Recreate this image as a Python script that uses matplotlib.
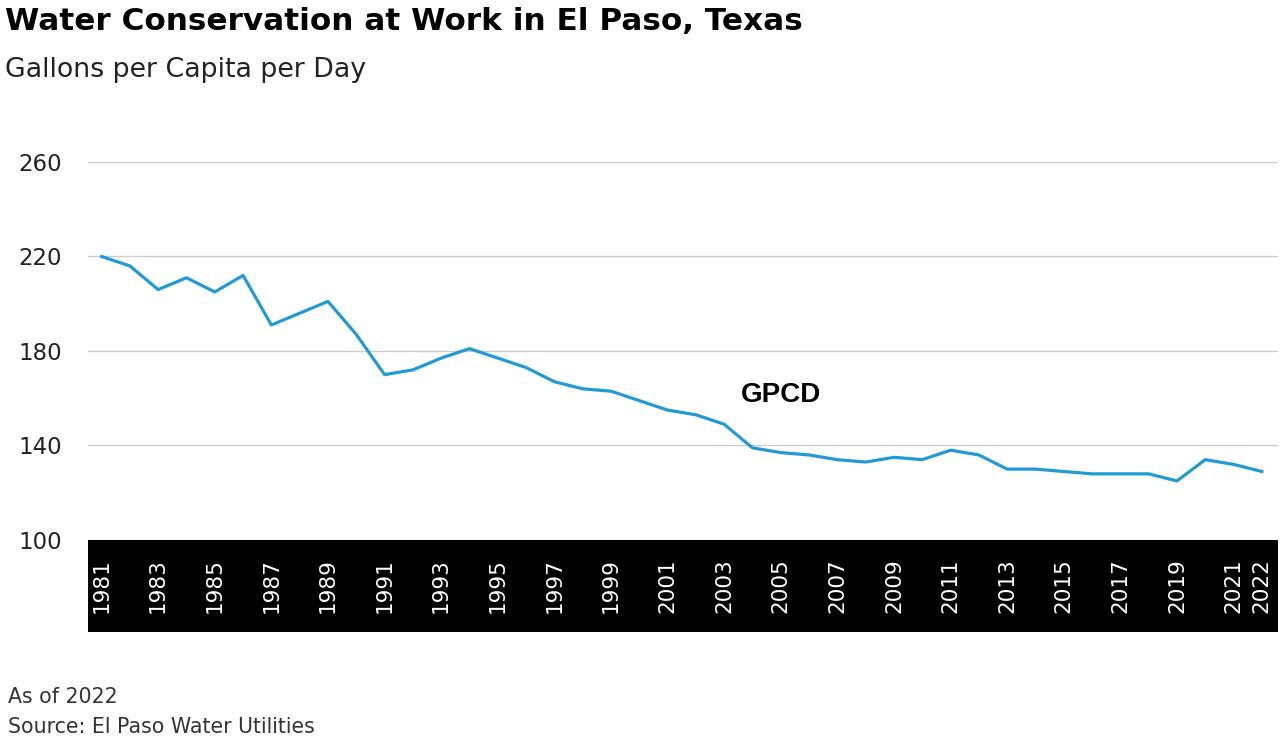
import matplotlib.pyplot as plt
from matplotlib.patches import Rectangle

years = list(range(1981, 2023))
gpcd = [220, 216, 206, 211, 205, 212, 191, 196, 201, 187,
        170, 172, 177, 181, 177, 173, 167, 164, 163, 159,
        155, 153, 149, 139, 137, 136, 134, 133, 135, 134,
        138, 136, 130, 130, 129, 128, 128, 128, 125, 134,
        132, 129]
xtick_years = list(range(1981, 2022, 2)) + [2022]
ytick_vals = [100, 140, 180, 220, 260]

W, H = 1280, 739
fig = plt.figure(figsize=(W / 100, H / 100), dpi=100)

# axes placed in pixel terms
left, right, top, bottom, band = 88, 1278, 162, 540, 632
ax = fig.add_axes([left / W, 1 - bottom / H, (right - left) / W, (bottom - top) / H])

# black band behind the year labels, hung under the axes
frac = (band - bottom) / (bottom - top)
ax.add_patch(Rectangle((0, -frac), 1, frac, transform=ax.transAxes, facecolor='black',
                       edgecolor='none', clip_on=False, zorder=0))

ax.plot(years, gpcd, color='#229ad6', lw=2.3, clip_on=False, zorder=3)
ax.text(2005, 161.5, 'GPCD', ha='center', va='center', fontsize=20, fontweight='bold',
        family=['Liberation Sans', 'DejaVu Sans'])

ax.set_xlim(1980.52, 2022.57)
ax.set_ylim(100, 260)
ax.set_yticks(ytick_vals)
ax.set_yticklabels([str(v) for v in ytick_vals], fontsize=16.5, color='#222222')
ax.set_xticks(xtick_years)
ax.set_xticklabels([str(y) for y in xtick_years], rotation=90, va='center', color='white',
                   fontsize=15.5)
ax.tick_params(axis='x', length=0, pad=33)
ax.tick_params(axis='y', length=0, pad=19)
ax.grid(axis='y', color='#cccccc', lw=1)
ax.set_axisbelow(True)
for s in ax.spines.values():
    s.set_visible(False)

fig.text(5 / W, 1 - 22 / H, 'Water Conservation at Work in El Paso, Texas', fontsize=22.4,
         fontweight='bold', va='center', ha='left')
fig.text(5 / W, 1 - 70 / H, 'Gallons per Capita per Day', fontsize=19.3, va='center', ha='left',
         color='#222222')
fig.text(8 / W, 1 - 697 / H, 'As of 2022', fontsize=14.8, va='center', ha='left', color='#333333')
fig.text(8 / W, 1 - 727 / H, 'Source: El Paso Water Utilities', fontsize=14.8, va='center',
         ha='left', color='#333333')

fig.savefig('out.png', dpi=100)
